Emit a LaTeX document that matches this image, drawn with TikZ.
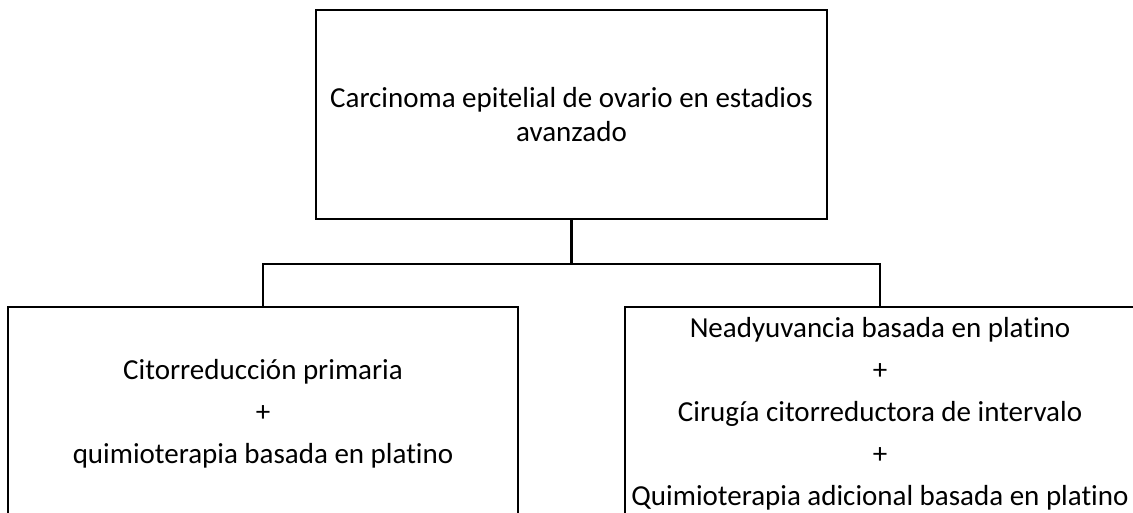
\documentclass[tikz,border=0pt]{standalone}
\usepackage{fontspec}
\setmainfont{Carlito}[Ligatures=CommonOff]
\usetikzlibrary{positioning}

\begin{document}
\begin{tikzpicture}[x=1pt,y=-1pt,
caja/.style={draw,line width=2.2pt,inner sep=0pt},
texto/.style={align=center,inner sep=0pt,font=\fontsize{29}{42}\selectfont}]

\useasboundingbox (0,0) rectangle (1133,513);
\clip (0,0) rectangle (1133,513);

\node[caja,minimum width=511pt,minimum height=209pt,align=center,
      font=\fontsize{29}{34}\selectfont] (arriba) at (571.5,114.5)
      {Carcinoma epitelial de ovario en estadios\\avanzado};

\node[caja,minimum width=510pt,minimum height=260pt] (izq) at (263,437) {};
\node[caja,minimum width=510pt,minimum height=260pt] (der) at (880,437) {};

\coordinate (rama) at ([yshift=-44pt]arriba.south);

\draw[line width=2.2pt] (arriba.south) -- (rama);
\draw[line width=2.2pt] (izq.north) |- (rama) -| (der.north);

\node[texto] (txtizq) at (263,413.5)
  {Citorreducción primaria\\+\\quimioterapia basada en platino};
\node[texto] (txtder) at (880,414)
  {Neadyuvancia basada en platino\\+\\Cirugía citorreductora de intervalo\\+\\Quimioterapia adicional basada en platino};

\end{tikzpicture}
\end{document}
